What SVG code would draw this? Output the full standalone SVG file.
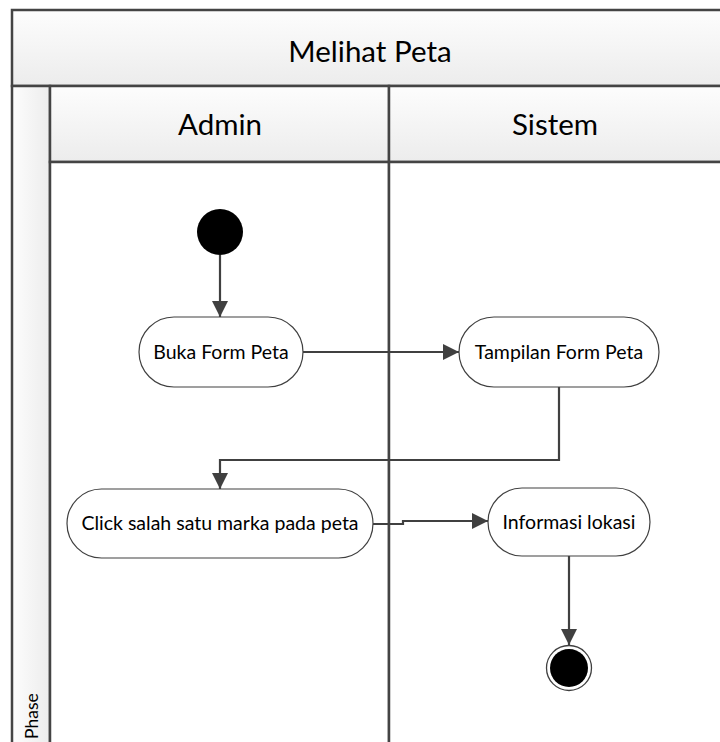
<svg xmlns="http://www.w3.org/2000/svg" width="720" height="742" viewBox="0 0 720 742">
<style>
.frame{stroke:#444;stroke-width:2.5;}
.lbl{font-family:Lato,"Open Sans","Liberation Sans",sans-serif;fill:#000;text-anchor:middle;}
.hdr{font-size:29.5px;}
.node rect{fill:#fff;stroke:#404040;stroke-width:1.2;}
.node text{font-size:19.5px;}
.conn{fill:none;stroke:#404040;stroke-width:2.2;}
</style>
<defs>
<linearGradient id="gv" x1="0" y1="0" x2="0" y2="1">
<stop offset="0" stop-color="#fdfdfd"/><stop offset="1" stop-color="#ececec"/>
</linearGradient>
<linearGradient id="gh" x1="0" y1="0" x2="1" y2="0">
<stop offset="0" stop-color="#fdfdfd"/><stop offset="1" stop-color="#ececec"/>
</linearGradient>
<marker id="arr" viewBox="0 0 10 10" refX="10" refY="5" markerWidth="7.5" markerHeight="7.5" markerUnits="strokeWidth" orient="auto">
<path d="M0,0 L10,5 L0,10 z" fill="#404040"/>
</marker>
</defs>
<rect width="720" height="742" fill="#fff"/>
<g id="pool">
<rect x="12" y="10" width="720" height="76" fill="url(#gv)" class="frame"/>
<text class="lbl hdr" x="370" y="62">Melihat Peta</text>
<rect x="12" y="86" width="38" height="670" fill="url(#gh)" class="frame"/>
<text class="lbl" x="38" y="739" font-size="17.5" transform="rotate(-90 38 739)" style="text-anchor:start">Phase</text>
</g>
<g id="lane-admin">
<rect x="50" y="86" width="339" height="76" fill="url(#gv)" class="frame"/>
<rect x="50" y="162" width="339" height="600" fill="#fff" class="frame"/>
<text class="lbl hdr" x="220" y="135">Admin</text>
</g>
<g id="lane-sistem">
<rect x="389" y="86" width="340" height="76" fill="url(#gv)" class="frame"/>
<rect x="389" y="162" width="340" height="600" fill="#fff" class="frame"/>
<text class="lbl hdr" x="555" y="135">Sistem</text>
</g>
<g id="connectors">
<path class="conn" d="M220,255 V317" marker-end="url(#arr)"/>
<path class="conn" d="M303,352 H459" marker-end="url(#arr)"/>
<path class="conn" d="M559,387 V460 H220 V489" marker-end="url(#arr)"/>
<path class="conn" d="M373,524 H403 V521 H488" marker-end="url(#arr)"/>
<path class="conn" d="M569,556 V645" marker-end="url(#arr)"/>
</g>
<g id="start"><circle cx="220" cy="232" r="23" fill="#000"/></g>
<g id="buka" class="node"><rect x="139" y="317" width="164" height="70" rx="35"/><text class="lbl" x="221" y="359">Buka Form Peta</text></g>
<g id="tampilan" class="node"><rect x="459" y="317" width="200" height="70" rx="35"/><text class="lbl" x="559" y="359">Tampilan Form Peta</text></g>
<g id="click" class="node"><rect x="67" y="489" width="306" height="69" rx="34.5"/><text class="lbl" x="220" y="530">Click salah satu marka pada peta</text></g>
<g id="informasi" class="node"><rect x="488" y="488" width="162" height="68" rx="34"/><text class="lbl" x="569" y="529">Informasi lokasi</text></g>
<g id="end"><circle cx="569" cy="668" r="22.5" fill="#fff" stroke="#404040" stroke-width="1.3"/><circle cx="569" cy="668" r="19" fill="#000"/></g>
</svg>
